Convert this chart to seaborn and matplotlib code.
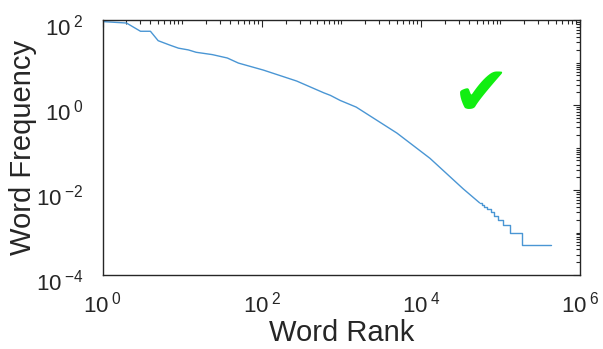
import matplotlib
matplotlib.use("Agg")
import matplotlib.pyplot as plt
import matplotlib.transforms as mtransforms
import seaborn as sns
import pandas as pd
from matplotlib.ticker import LogLocator, NullFormatter

# Values (rank vs. frequency, log-log)
rank_main = [1, 2, 3, 4, 5, 7, 9, 12, 15, 24, 37, 51, 105, 275, 600, 730,
             970, 1540, 5000, 13000, 34000, 54700]
freq_main = [93, 86, 55, 55, 33, 26, 22, 20, 17.6, 15.5, 12.9, 9.8, 6.7, 3.7,
             1.96, 1.70, 1.29, 0.90, 0.22, 0.056, 0.0107, 0.005]

# stair-stepped tail (words seen only a few times)
rank_tail = [54700, 58400, 62900, 68400, 75300, 83000, 93700, 106000, 131000,
             184000, 437000]
freq_tail = [0.005, 0.0045, 0.004, 0.0035, 0.003, 0.0025, 0.002, 0.0015,
             0.001, 0.0005, 0.0005]

x_ticks = [1, 1e2, 1e4, 1e6]
x_labels = ["0", "2", "4", "6"]
y_ticks = [1e-4, 1e-2, 1, 1e2]
y_labels = ["{-}4", "{-}2", "0", "2"]

line_color = "#4a96d4"
text_color = "#262626"

sns.set_theme(style="white")
plt.rcParams["font.family"] = ["Liberation Sans", "DejaVu Sans"]
plt.rcParams["mathtext.fontset"] = "custom"
plt.rcParams["mathtext.rm"] = "Liberation Sans"
plt.rcParams["mathtext.default"] = "regular"

df_main = pd.DataFrame({"rank": rank_main, "freq": freq_main})
df_tail = pd.DataFrame({"rank": rank_tail, "freq": freq_tail})

fig = plt.figure(figsize=(6.03, 3.49), dpi=100)
ax = fig.add_axes([0.170, 0.212, 0.792, 0.730])

sns.lineplot(data=df_main, x="rank", y="freq", ax=ax, color=line_color,
             linewidth=1.0, estimator=None)
sns.lineplot(data=df_tail, x="rank", y="freq", ax=ax, color=line_color,
             linewidth=1.0, estimator=None, drawstyle="steps-post")

ax.set_xscale("log")
ax.set_yscale("log")
ax.set_xlim(1, 1e6)
ax.set_ylim(1e-4, 1e2)

ax.set_xticks(x_ticks)
ax.set_xticklabels([r"$10^{\:%s}$" % s for s in x_labels])
ax.set_yticks(y_ticks)
ax.set_yticklabels([r"$10^{\:%s}$" % s for s in y_labels])
ax.xaxis.set_minor_locator(LogLocator(base=10, subs=[1, 2, 3, 4, 5, 6, 7, 8, 9], numticks=30))
ax.yaxis.set_minor_locator(LogLocator(base=10, subs=[1, 2, 3, 4, 5, 6, 7, 8, 9], numticks=30))
ax.xaxis.set_minor_formatter(NullFormatter())
ax.yaxis.set_minor_formatter(NullFormatter())

ax.tick_params(which="both", direction="in", top=True, right=True,
               color=text_color, width=0.8)
ax.tick_params(which="major", length=5, labelsize=16, labelcolor=text_color)
ax.tick_params(axis="x", which="major", pad=12)
ax.tick_params(axis="y", which="major", pad=14)
ax.tick_params(which="minor", length=3)

# MATLAB puts the "10" a bit below the y tick
shift = mtransforms.ScaledTranslation(0, -5 / 100, fig.dpi_scale_trans)
for lbl in ax.get_yticklabels():
    lbl.set_transform(lbl.get_transform() + shift)

for sp in ax.spines.values():
    sp.set_color(text_color)
    sp.set_linewidth(1.0)

ax.set_xlabel("Word Rank", fontsize=21, color=text_color, labelpad=1)
ax.set_ylabel("Word Frequency", fontsize=21, color=text_color, labelpad=-1)

# green check mark
ax.text(0.793, 0.705, "\u2714", transform=ax.transAxes, fontsize=50,
        color="#11ee11", ha="center", va="center", family="DejaVu Sans")

fig.savefig("out.png", dpi=100)
